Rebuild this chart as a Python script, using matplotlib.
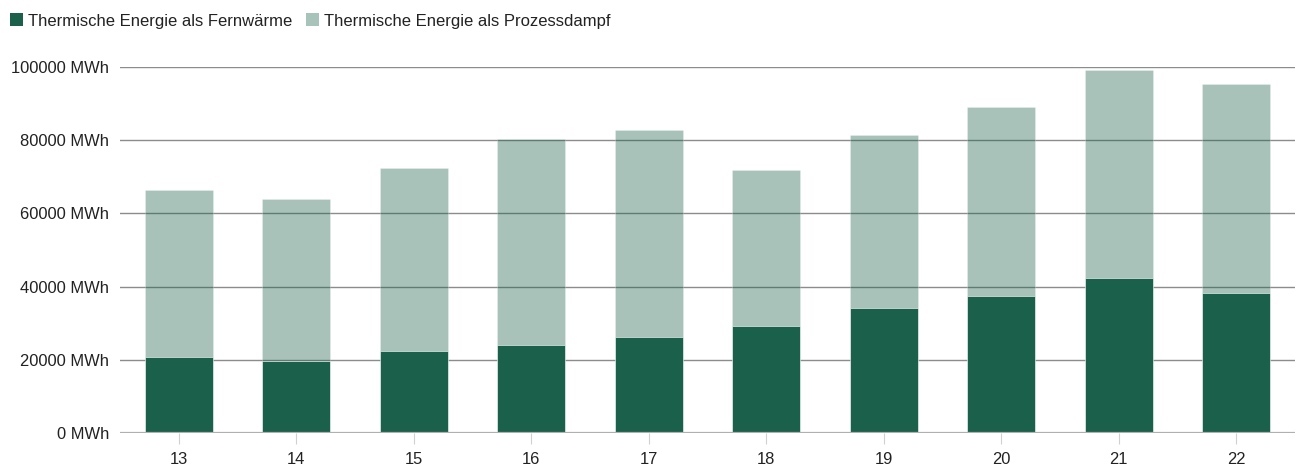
import matplotlib
matplotlib.use("Agg")
import matplotlib.pyplot as plt
from matplotlib.patches import Patch
import numpy as np

# ---------------------------------------------------------------- data
years = ["13", "14", "15", "16", "17", "18", "19", "20", "21", "22"]
fernwaerme = [20700, 19600, 22300, 24100, 26300, 29300, 34100, 37300, 42400, 38300]
gesamt = [66500, 64000, 72400, 80300, 82900, 71900, 81400, 89100, 99200, 95400]
prozessdampf = [g - f for g, f in zip(gesamt, fernwaerme)]
y_ticks = [0, 20000, 40000, 60000, 80000, 100000]

DARK = "#1a604a"
LIGHT = "#a8c3b9"
TEXT = "#222222"

plt.rcParams["font.family"] = ["Liberation Sans", "DejaVu Sans"]

fig = plt.figure(figsize=(12.98, 4.68), dpi=100)
ax = fig.add_axes([120 / 1298, 35 / 468, 1175 / 1298, 366 / 468])

x = np.arange(len(years))
w = 0.58
ax.bar(x, fernwaerme, width=w, color=DARK, edgecolor="white", linewidth=0.4, zorder=2)
ax.bar(x, prozessdampf, width=w, bottom=fernwaerme, color=DARK, alpha=0.38,
       edgecolor="white", linewidth=0.4, zorder=2)

ax.set_xlim(-0.5, len(years) - 0.5)
ax.set_ylim(0, 100000)
ax.set_xticks(x)
ax.set_xticklabels(years)
ax.set_yticks(y_ticks)
ax.set_yticklabels([f"{v} MWh" for v in y_ticks])

for v in y_ticks[1:]:
    ax.axhline(v, color="#8c8c8c", linewidth=1.0, zorder=1)
ax.axhline(0, color="#b0b0b0", linewidth=1.6, zorder=3)

for s in ax.spines.values():
    s.set_visible(False)
ax.tick_params(axis="y", length=0, pad=8, labelsize=11.9, labelcolor=TEXT)
ax.tick_params(axis="x", length=8, width=0.8, color="#d0d0d0", pad=6,
               labelsize=11.9, labelcolor=TEXT)

handles = [Patch(facecolor=DARK, edgecolor="none"),
           Patch(facecolor=LIGHT, edgecolor="none")]
fig.legend(handles, ["Thermische Energie als Fernwärme", "Thermische Energie als Prozessdampf"],
           loc="center left", bbox_to_anchor=(10 / 1298, 1 - 21 / 468), ncol=2,
           frameon=False, borderpad=0, borderaxespad=0,
           fontsize=12, handlelength=0.78, handleheight=0.78, handletextpad=0.28,
           columnspacing=0.85, labelcolor=TEXT)

fig.savefig("out.png", dpi=100)
